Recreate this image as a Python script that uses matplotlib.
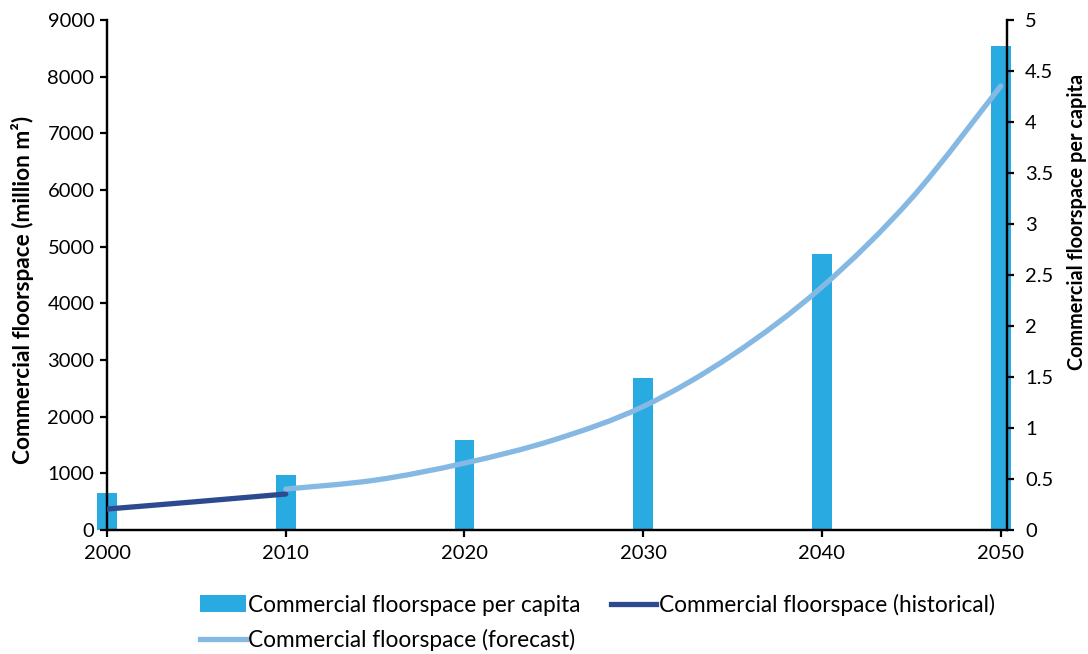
import matplotlib
matplotlib.use("Agg")
import matplotlib.pyplot as plt
from matplotlib.patches import Patch, PathPatch
from matplotlib.path import Path
from matplotlib.lines import Line2D

# Data
bar_years = [2000, 2010, 2020, 2030, 2040, 2050]
per_capita = [0.367, 0.539, 0.878, 1.489, 2.706, 4.744]

hist_years = [2000, 2005, 2010]
hist_floor = [370, 500, 635]

fc_years = [2010, 2015, 2020, 2025, 2030, 2035, 2040, 2045, 2050]
fc_floor = [723, 880, 1180, 1590, 2180, 3090, 4290, 5850, 7835]

left_ticks = [0, 1000, 2000, 3000, 4000, 5000, 6000, 7000, 8000, 9000]
right_ticks = [0, 0.5, 1, 1.5, 2, 2.5, 3, 3.5, 4, 4.5, 5]
right_labels = ["0", "0.5", "1", "1.5", "2", "2.5", "3", "3.5", "4", "4.5", "5"]
x_ticks = [2000, 2010, 2020, 2030, 2040, 2050]

bar_color = "#29ABE2"
hist_color = "#2E4A8F"
fc_color = "#85B8E3"

plt.rcParams["font.family"] = ["Lato", "DejaVu Sans"]
FS = 14.5


def smooth_path(xs, ys):
    """Catmull-Rom style cubic Bezier path through the given points."""
    verts = [(xs[0], ys[0])]
    codes = [Path.MOVETO]
    n = len(xs)
    for i in range(n - 1):
        x0, y0 = (xs[i - 1], ys[i - 1]) if i > 0 else (xs[i], ys[i])
        x1, y1 = xs[i], ys[i]
        x2, y2 = xs[i + 1], ys[i + 1]
        x3, y3 = (xs[i + 2], ys[i + 2]) if i + 2 < n else (xs[i + 1], ys[i + 1])
        c1 = (x1 + (x2 - x0) / 6.0, y1 + (y2 - y0) / 6.0)
        c2 = (x2 - (x3 - x1) / 6.0, y2 - (y3 - y1) / 6.0)
        verts += [c1, c2, (x2, y2)]
        codes += [Path.CURVE4] * 3
    return Path(verts, codes)


fig = plt.figure(figsize=(10.88, 6.54), dpi=100)
ax = fig.add_axes([107/1088, 1-530/654, 900/1088, 510/654])
ax2 = ax.twinx()

# bars on right axis (per capita)
ax2.bar(bar_years, per_capita, width=1.1, color=bar_color, clip_on=False, zorder=1)
ax2.set_ylim(0, 5)
ax2.set_yticks(right_ticks)
ax2.set_yticklabels(right_labels)

# lines on left axis, drawn above bars
ax.set_zorder(ax2.get_zorder() + 1)
ax.patch.set_visible(False)
ax.add_patch(PathPatch(smooth_path(hist_years, hist_floor), facecolor="none",
                       edgecolor=hist_color, lw=3.8, capstyle="round", zorder=3))
ax.add_patch(PathPatch(smooth_path(fc_years, fc_floor), facecolor="none",
                       edgecolor=fc_color, lw=3.8, capstyle="round", zorder=3))
ax.set_ylim(0, 9000)
ax.set_yticks(left_ticks)
ax.set_xlim(2000, 2050.35)
ax.set_xticks(x_ticks)

for a in (ax, ax2):
    for s in a.spines.values():
        s.set_linewidth(1.6)
    a.spines["top"].set_visible(False)
    a.tick_params(width=1.6, length=5, labelsize=FS)

ax.tick_params(axis="x", pad=6)
ax.tick_params(axis="y", pad=4)
ax2.tick_params(axis="y", pad=8)

ax.set_ylabel("Commercial floorspace (million m²)", fontsize=16.3, fontweight="bold", labelpad=10)
ax.yaxis.label.set_y(0.47)
ax2.set_ylabel("Commercial floorspace per capita", fontsize=14.3, fontweight="bold", labelpad=10)
ax2.yaxis.label.set_y(0.604)

h_bar = Patch(facecolor=bar_color, edgecolor="none")
h_hist = Line2D([], [], color=hist_color, lw=3.8)
h_fc = Line2D([], [], color=fc_color, lw=3.8)
l_bar = "Commercial floorspace per capita"
l_hist = "Commercial floorspace (historical)"
l_fc = "Commercial floorspace (forecast)"
fig.legend([h_bar, h_fc, h_hist], [l_bar, l_fc, l_hist], ncol=2, loc="lower left",
           bbox_to_anchor=(180/1088, -0.027), frameon=False, fontsize=16.3,
           handlelength=2.0, handleheight=0.75, handletextpad=0.12,
           columnspacing=1.33, labelspacing=0.6)

fig.savefig("out.png", dpi=100)
